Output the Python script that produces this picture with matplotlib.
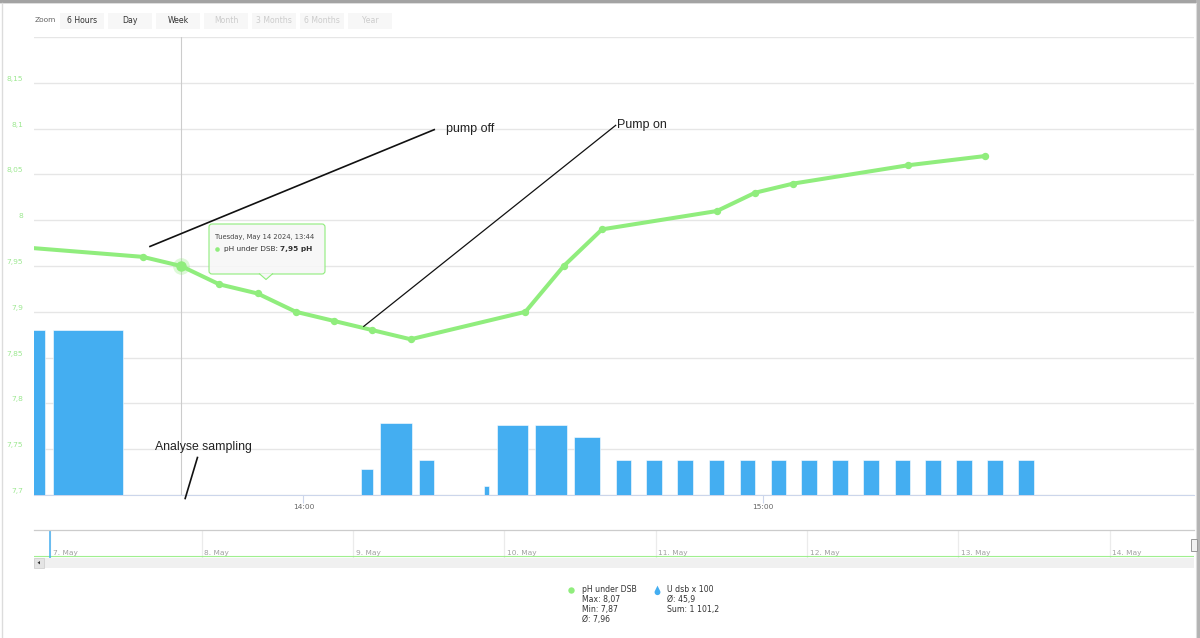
import numpy as np
import matplotlib
matplotlib.use("Agg")
import matplotlib.pyplot as plt
import matplotlib.dates as mdates
from matplotlib.patches import Rectangle, FancyBboxPatch, Polygon
from matplotlib.lines import Line2D
from matplotlib.path import Path
from matplotlib.transforms import Affine2D, ScaledTranslation, blended_transform_factory
import datetime as dt

# ---------------- data ----------------
DATE = (2024, 5, 14)
ph_times = ["13:24", "13:39", "13:44", "13:49", "13:54", "13:59", "14:04", "14:09",
            "14:14", "14:29", "14:34", "14:39", "14:54", "14:59", "15:04", "15:19", "15:29"]
ph_values = [7.97, 7.96, 7.95, 7.93, 7.92, 7.90, 7.89, 7.88,
             7.87, 7.90, 7.95, 7.99, 8.01, 8.03, 8.04, 8.06, 8.07]

bar_starts = ["13:23:00", "13:27:19", "13:39:12", "14:07:32", "14:10:03", "14:15:07",
              "14:23:38", "14:25:19", "14:30:17", "14:35:21",
              "14:40:47", "14:44:48", "14:48:49", "14:52:55", "14:56:59", "15:01:01",
              "15:05:02", "15:09:04", "15:13:09", "15:17:14", "15:21:15", "15:25:17",
              "15:29:18", "15:33:23"]
bar_minutes = [3.3, 9.07, 0.15, 1.57, 4.14, 1.98, 0.58, 4.02, 4.14, 3.44,
               2.03, 2.03, 2.03, 2.03, 2.03, 2.03, 2.03, 2.03, 2.03, 2.03, 2.03, 2.03, 2.03, 2.03]
bar_values = [157, 157, 0.2, 25, 69, 33, 9, 67, 67, 55,
              33, 33, 33, 33, 33, 33, 33, 33, 33, 33, 33, 33, 33, 33]

x_range = ["13:24:48", "15:56:20"]
x_tick_times = ["14:00", "15:00"]
ph_range = [7.7, 8.2]
bar_range = [0, 436]
grid_ticks = [7.7, 7.75, 7.8, 7.85, 7.9, 7.95, 8.0, 8.05, 8.1, 8.15, 8.2]
y_labels = ["7,7", "7,75", "7,8", "7,85", "7,9", "7,95", "8", "8,05", "8,1", "8,15", ""]

hover_time = "13:44"
tooltip_title = "Tuesday, May 14 2024, 13:44"

nav_range = ["2024-05-06T21:25", "2024-05-14T13:21"]
nav_days = ["2024-05-07", "2024-05-08", "2024-05-09", "2024-05-10",
            "2024-05-11", "2024-05-12", "2024-05-13", "2024-05-14"]
nav_labels = ["7. May", "8. May", "9. May", "10. May", "11. May", "12. May", "13. May", "14. May"]

zoom_buttons = ["6 Hours", "Day", "Week", "Month", "3 Months", "6 Months", "Year"]
zoom_enabled = [True, True, True, False, False, False, False]

series_names = ["pH under DSB", "U dsb x 100"]

# ---------------- helpers ----------------
def tnum(s):
    parts = [int(p) for p in s.split(":")]
    while len(parts) < 3:
        parts.append(0)
    return mdates.date2num(dt.datetime(*DATE, *parts))

def dnum(s):
    return mdates.date2num(np.datetime64(s).astype(dt.datetime))

def fmt(v, nd):
    s = f"{v:,.{nd}f}"
    return s.replace(",", " ").replace(".", ",")

W, H = 1200, 638
fig = plt.figure(figsize=(W / 100, H / 100), dpi=100)
fig.patch.set_facecolor("white")
PX = Affine2D().scale(1.0 / W, -1.0 / H).translate(0, 1) + fig.transFigure

def rect_px(x0, y0, x1, y1):
    return [x0 / W, 1 - y1 / H, (x1 - x0) / W, (y1 - y0) / H]

UI = "DejaVu Sans"
GREEN = "#90ed7d"
BLUE = "#44aef1"

# ---------------- main plot ----------------
PL, PR, PT, PB = 34, 1194, 37, 495
ax = fig.add_axes(rect_px(PL, PT, PR, PB))
axb = fig.add_axes(rect_px(PL, PT, PR, PB), sharex=ax)
axl = fig.add_axes(rect_px(PL, PT, PR, PB), sharex=ax, sharey=ax)
ax.set_zorder(0)
axb.set_zorder(1)
axl.set_zorder(2)
for a in (axb, axl):
    a.patch.set_visible(False)
    a.axis("off")

ax.set_xlim(tnum(x_range[0]), tnum(x_range[1]))
ax.set_ylim(*ph_range)
ax.set_yticks(grid_ticks)
ax.tick_params(axis="y", length=0, labelleft=False)
ax.yaxis.grid(True, color="#e6e6e6", lw=1)
ax.set_axisbelow(True)
ax.set_xticks([tnum(t) for t in x_tick_times])
ax.xaxis.set_major_formatter(mdates.DateFormatter("%H:%M"))
ax.tick_params(axis="x", length=5.8, width=0.8, color="#ccd6eb", labelsize=5.4,
               labelcolor="#666666", pad=0.8)
for lab in ax.get_xticklabels():
    lab.set_fontfamily(UI)
for s in ("top", "left", "right"):
    ax.spines[s].set_visible(False)
ax.spines["bottom"].set_color("#ccd6eb")
ax.spines["bottom"].set_linewidth(0.8)

ylab_tr = blended_transform_factory(ax.transAxes, ax.transData) + \
    ScaledTranslation(-11 / 100, 4 / 100, fig.dpi_scale_trans)
for v, lab in zip(grid_ticks, y_labels):
    ax.text(0, v, lab, transform=ylab_tr, ha="right", va="center", fontsize=5.4,
            color="#9de891", family=UI)

# crosshair
ax.axvline(tnum(hover_time), color="#cccccc", lw=0.8)

# bars
bx = [tnum(s) for s in bar_starts]
bw = [m / 1440.0 for m in bar_minutes]
axb.bar(bx, bar_values, width=bw, align="edge", color=BLUE, edgecolor="#ffffff", linewidth=0.4)
axb.set_ylim(*bar_range)

# pH line
lx = [tnum(s) for s in ph_times]
axl.plot(lx, ph_values, color=GREEN, lw=2.9, marker="o", ms=4.3, mec=GREEN,
         solid_joinstyle="round", solid_capstyle="round")
hi = ph_times.index(hover_time)
axl.plot(lx[hi], ph_values[hi], "o", ms=12, color=GREEN, alpha=0.3, mec="none")
axl.plot(lx[hi], ph_values[hi], "o", ms=6.5, color=GREEN, mec=GREEN)

# hand-drawn annotations
def seg(t0, y0, t1, y1, lw):
    axl.plot([tnum(t0), tnum(t1)], [y0, y1], color="#111111", lw=lw, clip_on=False,
             solid_capstyle="butt")

seg("13:39:51", 7.971, "14:17:11", 8.0992, 1.2)
axl.text(tnum("14:18:36"), 8.0992, "pump off", ha="left", va="center", fontsize=9,
         family="Liberation Sans", color="#222222")
seg("14:07:49", 7.8837, "14:40:51", 8.104, 0.9)
axl.text(tnum("14:41:00"), 8.104, "Pump on", ha="left", va="center", fontsize=9,
         family="Liberation Sans", color="#222222")
seg("13:46:11", 7.7418, "13:44:31", 7.6953, 1.2)
axl.text(tnum("13:40:36"), 7.7527, "Analyse sampling", ha="left", va="center", fontsize=8.8,
         family="Liberation Sans", color="#222222")

# ---------------- tooltip ----------------
tb = FancyBboxPatch((209, 224), 116, 50, boxstyle="round,pad=0,rounding_size=3",
                    transform=PX, facecolor=(0.97, 0.97, 0.97, 0.88), edgecolor=GREEN, lw=0.8,
                    zorder=10)
fig.add_artist(tb)
fig.add_artist(Polygon([(259.5, 273.4), (266, 279.5), (272.5, 273.4)], closed=True,
                       transform=PX, facecolor=(0.97, 0.97, 0.97), edgecolor="none", zorder=11))
fig.add_artist(Line2D([259.5, 266, 272.5], [273.8, 279.5, 273.8], transform=PX,
                      color=GREEN, lw=0.8, zorder=12))
fig.text(215, 237, tooltip_title, transform=PX, fontsize=4.85, family=UI, color="#444444",
         ha="left", va="center", zorder=13)
fig.add_artist(Line2D([217.3], [249.3], transform=PX, marker="o", ms=3.3, color=GREEN,
                      mec="none", zorder=13))
t1 = fig.text(224, 249.3, series_names[0] + ": ", transform=PX, fontsize=5.3, family=UI,
              color="#333333", ha="left", va="center", zorder=13)
fig.canvas.draw()
bb = t1.get_window_extent(fig.canvas.get_renderer())
xend = bb.x1 * W / fig.bbox.width
fig.text(xend, 249.3, fmt(ph_values[hi], 2) + " pH", transform=PX, fontsize=5.3, family=UI,
         color="#333333", fontweight="bold", ha="left", va="center", zorder=13)

# ---------------- zoom buttons ----------------
fig.text(34.3, 20.5, "Zoom", transform=PX, fontsize=5.4, family=UI, color="#666666",
         ha="left", va="center")
for i, (lab, en) in enumerate(zip(zoom_buttons, zoom_enabled)):
    x0 = 60 + i * 48
    fig.add_artist(Rectangle((x0, 13), 44, 15.5, transform=PX, facecolor="#f7f7f7",
                             edgecolor="none"))
    fig.text(x0 + 22, 20.5, lab, transform=PX, fontsize=5.6, family=UI,
             color="#333333" if en else "#cccccc", ha="center", va="center")

# ---------------- navigator ----------------
NT, NB = 530, 557.7
axn = fig.add_axes(rect_px(PL, NT, PR, NB))
axn.set_xlim(dnum(nav_range[0]), dnum(nav_range[1]))
axn.set_ylim(0, 1)
axn.set_xticks([])
axn.set_yticks([])
for s in ("bottom", "left", "right"):
    axn.spines[s].set_visible(False)
axn.spines["top"].set_color("#cccccc")
axn.spines["top"].set_linewidth(0.9)
for d, lab in zip(nav_days, nav_labels):
    axn.axvline(dnum(d), color="#ebebeb", lw=0.9)
    axn.text(dnum(d), 0.18, lab, transform=blended_transform_factory(axn.transData, axn.transAxes)
             + ScaledTranslation(2.5 / 100, 0, fig.dpi_scale_trans),
             fontsize=5.3, family=UI, color="#a0a0a0", ha="left", va="center")
axn.axhline(0.07, color=GREEN, lw=0.8, alpha=0.85)
axn.axvline(dnum(nav_days[0]) - 0.003, color=BLUE, lw=1.1)

# scrollbar
fig.add_artist(Rectangle((PL, 557.7), PR - PL, 10, transform=PX, facecolor="#f0f0f0",
                         edgecolor="none"))
fig.add_artist(Rectangle((PL, 557.7), 10, 10, transform=PX, facecolor="#e4e4e4",
                         edgecolor="#cccccc", lw=0.5))
fig.add_artist(Polygon([(37.5, 562.7), (40, 561), (40, 564.4)], closed=True, transform=PX,
                       facecolor="#333333", edgecolor="none"))
# right navigator handle
fig.add_artist(Rectangle((1190.7, 538.6), 6, 12.2, transform=PX, facecolor="#f2f2f2",
                         edgecolor="#999999", lw=0.7, zorder=5))

# ---------------- legend ----------------
n = len(ph_values)
leg1 = [series_names[0], "Max: " + fmt(max(ph_values), 2), "Min: " + fmt(min(ph_values), 2),
        "Ø: " + fmt(sum(ph_values) / n, 2)]
leg2 = [series_names[1], "Ø: " + fmt(sum(bar_values) / len(bar_values), 1),
        "Sum: " + fmt(sum(bar_values), 1)]
for i, s in enumerate(leg1):
    fig.text(581.7, 590 + i * 9.8, s, transform=PX, fontsize=5.6, family=UI, color="#333333",
             ha="left", va="center")
for i, s in enumerate(leg2):
    fig.text(667.3, 590 + i * 9.8, s, transform=PX, fontsize=5.6, family=UI, color="#333333",
             ha="left", va="center")
fig.add_artist(Line2D([570.7], [590], transform=PX, marker="o", ms=4.6, color=GREEN, mec="none"))
ang = np.radians(np.linspace(153.6, 386.4, 40))
drop = np.vstack([[0, 1.0], np.column_stack([0.6 * np.cos(ang), -0.35 + 0.6 * np.sin(ang)])])
drop[:, 1] *= -1  # marker drawn in flipped pixel space
fig.add_artist(Line2D([657.3], [589.5], transform=PX, marker=Path(np.vstack([drop[:, 0], -drop[:, 1]]).T),
                      ms=7, color=BLUE, mec="none"))

# ---------------- screenshot frame ----------------
fig.add_artist(Rectangle((0, 0), W, 2.5, transform=PX, facecolor="#a3a3a3", edgecolor="none"))
fig.add_artist(Rectangle((0, 2.5), W, 1.2, transform=PX, facecolor="#dedede", edgecolor="none"))
fig.add_artist(Line2D([1.5, 1.5], [3, H], transform=PX, color="#dcdcdc", lw=1))
fig.add_artist(Rectangle((1196, 0), 4, H, transform=PX, facecolor="#b3b3b3", edgecolor="none"))
fig.add_artist(Line2D([1195.5, 1195.5], [3, H], transform=PX, color="#dddddd", lw=0.8))

fig.savefig("out.png", dpi=100, facecolor="white")
